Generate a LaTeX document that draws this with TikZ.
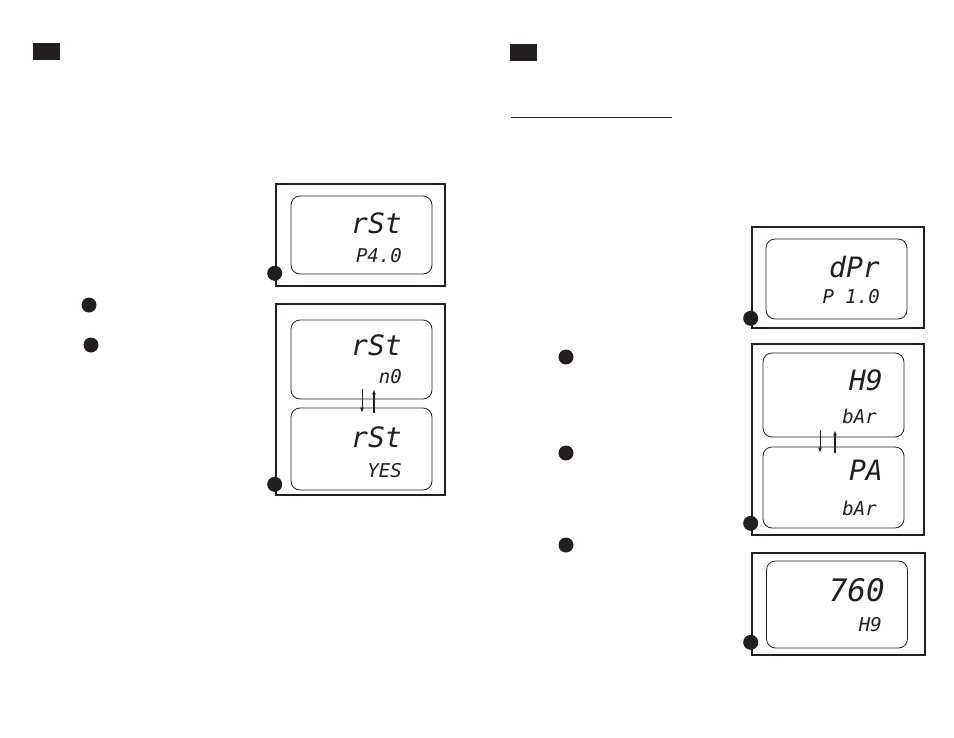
\documentclass[tikz,border=0pt]{standalone}
\usepackage{fontspec}
\usepackage{xcolor}
\newfontfamily\lcdfont{DejaVu Sans Mono}
\usetikzlibrary{arrows.meta,positioning}
\definecolor{ink}{RGB}{35,31,32}

\begin{document}
\begin{tikzpicture}[
  x=1pt, y=-1pt,
  frame/.style={rectangle, draw=ink, line width=2.6pt, inner sep=0pt},
  screen/.style={rectangle, draw=ink, rounded corners=9pt, line width=0.8pt, inner sep=0pt, minimum width=141pt},
  tag/.style={circle, fill=ink, minimum size=15pt, inner sep=0pt},
  badge/.style={rectangle, fill=ink, minimum width=27pt, minimum height=17pt, inner sep=0pt},
  lcdbig/.style={anchor=base east, inner sep=0pt, text=ink, font=\lcdfont\itshape\fontsize{28}{28}\selectfont},
  lcdsmall/.style={anchor=base east, inner sep=0pt, text=ink, font=\lcdfont\itshape\fontsize{19}{19}\selectfont},
  flip/.style={-{Latex[length=5pt,width=4pt]}, draw=ink}
]
\useasboundingbox (0,0) rectangle (954,737);

% section markers
\node[badge] (secL) at (46.5,51.5) {};
\node[badge] (secR) at (523.5,52) {};
\coordinate (ulA) at (511,117);
\coordinate (ulB) at (672,117);
\draw[ink, line width=1pt] (ulA) -- (ulB);

% left column
\node[frame, minimum width=169pt, minimum height=102pt] (f1) at (360.5,235) {};
\node[screen, minimum height=78pt] (s1) at (361.5,235) {};
\node[lcdbig] (t1a) at (402,233) {rSt};
\node[lcdsmall] (t1b) at (402,262) {P4.0};
\node[tag] (d1) at ([yshift=14pt]f1.south west) {};

\node[frame, minimum width=169pt, minimum height=191pt] (f2) at (360.5,399.5) {};
\node[screen, minimum height=79pt] (s2a) at (361.5,359.5) {};
\node[screen, minimum height=82pt] (s2b) at (361.5,449) {};
\node[lcdbig] (t2a) at (402,355) {rSt};
\node[lcdsmall] (t2b) at (402,383) {n0};
\node[lcdbig] (t2c) at (402,447) {rSt};
\node[lcdsmall] (t2d) at (402,477) {YES};
\draw[flip, line width=0.9pt] ([xshift=0.5pt,yshift=10pt]s2a.south) -- ([xshift=0.5pt,yshift=-5pt]s2b.north);
\draw[flip, line width=1.8pt] ([xshift=12.5pt,yshift=-5pt]s2b.north) -- ([xshift=12.5pt,yshift=10pt]s2a.south);
\node[tag] (d2) at ([yshift=12pt]f2.south west) {};

\node[tag] (k1) at (89,305) {};
\node[tag] (k2) at (91,345) {};

% right column
\node[frame, minimum width=172pt, minimum height=101pt] (f3) at (838,277.5) {};
\node[screen, minimum height=80pt] (s3) at (836.5,279) {};
\node[lcdbig] (t3a) at (880,277) {dPr};
\node[lcdsmall] (t3b) at (880,303) {P 1.0};
\node[tag] (d3) at ([yshift=11pt]f3.south west) {};

\node[frame, minimum width=172pt, minimum height=191pt] (f4) at (838,439.5) {};
\node[screen, minimum height=84pt] (s4a) at (833.5,395) {};
\node[screen, minimum height=81pt] (s4b) at (833.5,487.5) {};
\node[lcdbig] (t4a) at (883,390) {H9};
\node[lcdsmall] (t4b) at (877,423) {bAr};
\node[lcdbig] (t4c) at (883,480) {PA};
\node[lcdsmall] (t4d) at (877,515) {bAr};
\draw[flip, line width=0.9pt] ([xshift=-13.5pt,yshift=7pt]s4a.south) -- ([xshift=-13.5pt,yshift=-6pt]s4b.north);
\draw[flip, line width=1.8pt] ([xshift=1.5pt,yshift=-6pt]s4b.north) -- ([xshift=1.5pt,yshift=7pt]s4a.south);
\node[tag] (d4) at ([yshift=13pt]f4.south west) {};

\node[frame, minimum width=173pt, minimum height=102pt] (f5) at (838.5,604) {};
\node[screen, minimum height=87pt] (s5) at (837,604.5) {};
\node[lcdbig, font=\lcdfont\itshape\fontsize{31}{31}\selectfont] (t5a) at (885,601) {760};
\node[lcdsmall] (t5b) at (882,631) {H9};
\node[tag] (d5) at ([yshift=14pt]f5.south west) {};

\node[tag] (k3) at (566,357) {};
\node[tag] (k4) at (566,453) {};
\node[tag] (k5) at (566,545) {};
\end{tikzpicture}
\end{document}
